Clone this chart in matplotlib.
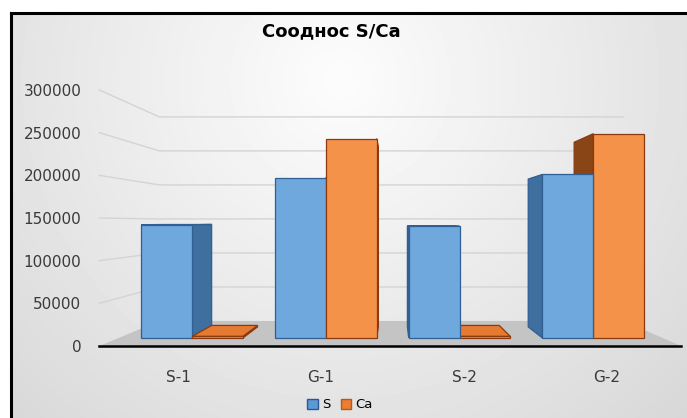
import numpy as np
import matplotlib
matplotlib.use("Agg")
import matplotlib.pyplot as plt
from matplotlib.patches import Polygon, Patch

# data
categories = ["S-1", "G-1", "S-2", "G-2"]
s_values = [142000, 201000, 140000, 205000]
ca_values = [2000, 250000, 2000, 256000]
y_ticks = [0, 50000, 100000, 150000, 200000, 250000, 300000]
series_names = ["S", "Ca"]
title = "Сооднос S/Ca"

W, H = 687, 418
fig = plt.figure(figsize=(W / 100, H / 100), dpi=100)

# background with soft gradient and the black frame (top / left)
bg = fig.add_axes([0, 0, 1, 1])
yy, xx = np.mgrid[0:H, 0:W]
r = np.sqrt(((xx - 340) / 400.0) ** 2 + ((yy - 80) / 400.0) ** 2)
grad = np.clip(0.99 - 0.12 * r, 0.82, 0.985)
bg.imshow(grad, cmap="gray", vmin=0, vmax=1, extent=[0, W, H, 0], aspect="auto")
bg.fill_between([0, W], 0, 13, color="white")
bg.fill_between([0, 11], 0, H, color="white")
bg.plot([11, W], [13, 13], color="black", lw=2.2)
bg.plot([11, 11], [13, H], color="black", lw=2.2)
bg.set_xlim(0, W)
bg.set_ylim(H, 0)
bg.axis("off")

# main axes: front plane of the 3d box
x_lo, x_hi = -0.55, 3.52
px0 = 178 + 143 * x_lo
px1 = 178 + 143 * x_hi
ax = fig.add_axes([px0 / W, (H - 346) / H, (px1 - px0) / W, 256 / H])
ax.set_xlim(x_lo, x_hi)
ax.set_ylim(0, 300000)
ax.patch.set_alpha(0)

# perspective: vanishing point and depth scales
vx = (395 - 178) / 143.0
vy = (346 - 222.6) / 256.0 * 300000
s_wall = 0.797
s_front = 0.935
s_back = 0.845
bar_w = 0.38


def proj(x, v, s):
    return (vx + (x - vx) * s, vy + (v - vy) * s)


def face(points, fc, ec, z):
    ax.add_patch(Polygon(points, closed=True, fc=fc, ec=ec, lw=0.9,
                         clip_on=False, zorder=z, joinstyle="miter"))


# floor
face([proj(x_lo, 0, 1), proj(x_hi, 0, 1),
      proj(x_hi, 0, s_wall), proj(x_lo, 0, s_wall)],
     "#c4c4c4", "none", 2)

# gridlines running along the side wall then the back wall
for t in y_ticks[1:]:
    pts = [proj(x_lo, t, 1), proj(x_lo, t, s_wall), proj(x_hi, t, s_wall)]
    ax.plot([p[0] for p in pts], [p[1] for p in pts], color="#d4d4d4",
            lw=1.0, clip_on=False, zorder=2)

colors = {
    "S": ("#6fa8dc", "#3f6f9f", "#5d8fc4", "#2f5f95"),
    "Ca": ("#f4924a", "#8a4516", "#e57a32", "#8b3a0e"),
}

bars = []
for i in range(len(categories)):
    bars.append((i - bar_w, i, s_values[i], "S"))
    bars.append((i, i + bar_w, ca_values[i], "Ca"))
bars.sort(key=lambda b: -abs((b[0] + b[1]) / 2 - vx))

z = 3
for x0, x1, h, name in bars:
    front_c, side_c, top_c, edge_c = colors[name]
    if x1 < vx:
        face([proj(x1, 0, s_front), proj(x1, 0, s_back),
              proj(x1, h, s_back), proj(x1, h, s_front)], side_c, edge_c, z)
    elif x0 > vx:
        face([proj(x0, 0, s_front), proj(x0, 0, s_back),
              proj(x0, h, s_back), proj(x0, h, s_front)], side_c, edge_c, z)
    if h < vy:
        face([proj(x0, h, s_front), proj(x1, h, s_front),
              proj(x1, h, s_back), proj(x0, h, s_back)], top_c, edge_c, z)
    face([proj(x0, 0, s_front), proj(x1, 0, s_front),
          proj(x1, h, s_front), proj(x0, h, s_front)], front_c, edge_c, z + 0.5)
    z += 1

for side in ["top", "right", "left"]:
    ax.spines[side].set_visible(False)
ax.spines["bottom"].set_color("black")
ax.spines["bottom"].set_linewidth(1.8)
ax.spines["bottom"].set_zorder(20)

ax.set_yticks(y_ticks)
ax.set_yticklabels([str(t) for t in y_ticks], fontsize=11, color="#3a3a3a")
ax.set_xticks(range(len(categories)))
ax.set_xticklabels(categories, fontsize=11, color="#3a3a3a")
ax.tick_params(axis="y", length=0, pad=13)
ax.tick_params(axis="x", length=0, pad=17)

fig.text(331 / W, 1 - 31 / H, title, fontsize=13, fontweight="bold",
         ha="center", va="center", color="black")

handles = [Patch(fc="#5b9bd5", ec="#2f5597", label=series_names[0]),
           Patch(fc="#ed7d31", ec="#ae5a21", label=series_names[1])]
fig.legend(handles=handles, loc="center", bbox_to_anchor=(340 / W, 1 - 405 / H),
           ncol=2, frameon=False, fontsize=9.5, handlelength=0.8,
           handleheight=0.8, handletextpad=0.3, columnspacing=0.8)

fig.savefig("out.png", dpi=100)
